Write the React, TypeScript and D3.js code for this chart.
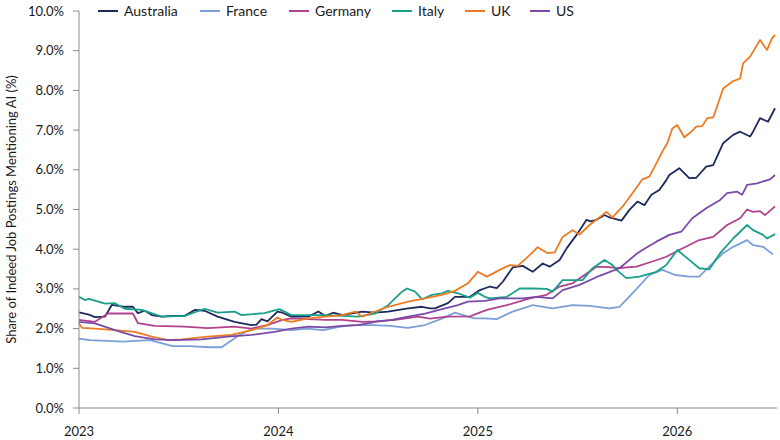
import React from "react";
import * as d3 from "d3";

// Time expressed as decimal year, value in % of job postings mentioning AI
const australia: [number, number][] = [
  [2023.0, 2.41], [2023.05, 2.35], [2023.08, 2.29], [2023.13, 2.3], [2023.165, 2.6], [2023.23, 2.55],
  [2023.27, 2.55], [2023.295, 2.39], [2023.33, 2.45], [2023.365, 2.34], [2023.415, 2.3], [2023.465, 2.32],
  [2023.53, 2.32], [2023.58, 2.47], [2023.63, 2.45], [2023.695, 2.3], [2023.78, 2.17], [2023.865, 2.09],
  [2023.89, 2.1], [2023.915, 2.24], [2023.945, 2.18], [2023.995, 2.43], [2024.02, 2.4], [2024.065, 2.3],
  [2024.15, 2.3], [2024.2, 2.43], [2024.235, 2.32], [2024.275, 2.4], [2024.32, 2.34], [2024.42, 2.43],
  [2024.485, 2.4], [2024.55, 2.43], [2024.65, 2.51], [2024.72, 2.55], [2024.76, 2.51], [2024.785, 2.51],
  [2024.85, 2.64], [2024.885, 2.8], [2024.96, 2.8], [2025.01, 2.97], [2025.06, 3.06], [2025.095, 3.02],
  [2025.125, 3.18], [2025.175, 3.54], [2025.225, 3.58], [2025.275, 3.43], [2025.325, 3.64], [2025.36, 3.56],
  [2025.41, 3.73], [2025.445, 4.02], [2025.495, 4.36], [2025.545, 4.74], [2025.565, 4.7], [2025.595, 4.74],
  [2025.635, 4.86], [2025.66, 4.8], [2025.72, 4.72], [2025.76, 4.99], [2025.8, 5.2], [2025.835, 5.11],
  [2025.87, 5.37], [2025.91, 5.49], [2025.945, 5.74], [2025.96, 5.87], [2026.01, 6.04], [2026.06, 5.79],
  [2026.095, 5.8], [2026.145, 6.08], [2026.18, 6.12], [2026.23, 6.67], [2026.28, 6.88], [2026.315, 6.96],
  [2026.365, 6.84], [2026.38, 6.96], [2026.415, 7.3], [2026.455, 7.21], [2026.49, 7.55],
];

const france: [number, number][] = [
  [2023.0, 1.75], [2023.055, 1.71], [2023.22, 1.67], [2023.355, 1.71], [2023.47, 1.56], [2023.555, 1.56],
  [2023.655, 1.53], [2023.715, 1.53], [2023.755, 1.67], [2023.805, 1.84], [2023.87, 2.0], [2023.97, 2.0],
  [2024.07, 1.96], [2024.14, 2.0], [2024.225, 1.96], [2024.31, 2.05], [2024.375, 2.09], [2024.475, 2.09],
  [2024.56, 2.07], [2024.65, 2.02], [2024.735, 2.09], [2024.82, 2.25], [2024.885, 2.4], [2024.95, 2.3],
  [2024.985, 2.26], [2025.035, 2.26], [2025.095, 2.24], [2025.175, 2.43], [2025.275, 2.59], [2025.375, 2.51],
  [2025.475, 2.59], [2025.56, 2.57], [2025.66, 2.51], [2025.71, 2.55], [2025.775, 2.89], [2025.86, 3.35],
  [2025.925, 3.48], [2025.99, 3.35], [2026.06, 3.31], [2026.11, 3.31], [2026.16, 3.56], [2026.23, 3.9],
  [2026.28, 4.06], [2026.35, 4.23], [2026.38, 4.1], [2026.43, 4.06], [2026.48, 3.87],
];

const germany: [number, number][] = [
  [2023.0, 2.22], [2023.08, 2.17], [2023.145, 2.38], [2023.27, 2.38], [2023.295, 2.14], [2023.38, 2.07],
  [2023.53, 2.05], [2023.645, 2.01], [2023.78, 2.05], [2023.865, 2.0], [2023.945, 2.09], [2024.02, 2.22],
  [2024.065, 2.26], [2024.15, 2.24], [2024.235, 2.22], [2024.32, 2.22], [2024.42, 2.17], [2024.485, 2.18],
  [2024.585, 2.22], [2024.7, 2.3], [2024.76, 2.25], [2024.845, 2.3], [2024.96, 2.31], [2025.045, 2.47],
  [2025.145, 2.59], [2025.26, 2.76], [2025.345, 2.85], [2025.41, 3.06], [2025.475, 3.14], [2025.595, 3.56],
  [2025.675, 3.54], [2025.695, 3.52], [2025.795, 3.56], [2025.875, 3.69], [2025.945, 3.81], [2026.01, 3.98],
  [2026.11, 4.23], [2026.18, 4.31], [2026.25, 4.61], [2026.315, 4.78], [2026.35, 5.0], [2026.38, 4.94],
  [2026.415, 4.96], [2026.44, 4.86], [2026.49, 5.08],
];

const italy: [number, number][] = [
  [2023.0, 2.8], [2023.03, 2.72], [2023.05, 2.75], [2023.13, 2.63], [2023.18, 2.64], [2023.23, 2.5],
  [2023.315, 2.47], [2023.415, 2.3], [2023.53, 2.32], [2023.63, 2.5], [2023.695, 2.4], [2023.78, 2.43],
  [2023.815, 2.34], [2023.93, 2.39], [2024.005, 2.49], [2024.065, 2.34], [2024.15, 2.34], [2024.235, 2.34],
  [2024.32, 2.32], [2024.4, 2.3], [2024.485, 2.38], [2024.55, 2.59], [2024.62, 2.93], [2024.645, 3.01],
  [2024.685, 2.93], [2024.72, 2.74], [2024.77, 2.85], [2024.82, 2.89], [2024.85, 2.95], [2024.9, 2.89],
  [2024.96, 2.78], [2025.0, 2.9], [2025.035, 2.8], [2025.06, 2.76], [2025.145, 2.8], [2025.21, 3.01],
  [2025.275, 3.01], [2025.345, 3.0], [2025.375, 2.93], [2025.425, 3.22], [2025.525, 3.22], [2025.575, 3.52],
  [2025.61, 3.64], [2025.635, 3.73], [2025.675, 3.6], [2025.695, 3.48], [2025.745, 3.27], [2025.81, 3.31],
  [2025.895, 3.43], [2025.945, 3.6], [2026.0, 3.98], [2026.06, 3.73], [2026.11, 3.52], [2026.16, 3.49],
  [2026.215, 3.9], [2026.28, 4.27], [2026.35, 4.61], [2026.38, 4.48], [2026.43, 4.36], [2026.45, 4.27],
  [2026.49, 4.38],
];

const uk: [number, number][] = [
  [2023.0, 2.13], [2023.015, 2.02], [2023.08, 2.0], [2023.18, 1.96], [2023.28, 1.92], [2023.365, 1.8],
  [2023.445, 1.71], [2023.515, 1.73], [2023.645, 1.8], [2023.765, 1.84], [2023.865, 1.96], [2023.945, 2.09],
  [2023.995, 2.28], [2024.02, 2.22], [2024.065, 2.17], [2024.15, 2.26], [2024.235, 2.3], [2024.32, 2.34],
  [2024.385, 2.43], [2024.42, 2.3], [2024.485, 2.43], [2024.55, 2.55], [2024.65, 2.68], [2024.735, 2.76],
  [2024.82, 2.85], [2024.885, 2.95], [2024.95, 3.14], [2025.0, 3.43], [2025.045, 3.31], [2025.11, 3.48],
  [2025.16, 3.6], [2025.2, 3.58], [2025.26, 3.85], [2025.3, 4.05], [2025.35, 3.9], [2025.385, 3.92],
  [2025.425, 4.31], [2025.475, 4.48], [2025.51, 4.37], [2025.56, 4.61], [2025.645, 4.94], [2025.675, 4.8],
  [2025.725, 5.07], [2025.775, 5.41], [2025.825, 5.76], [2025.86, 5.83], [2025.895, 6.16], [2025.925, 6.46],
  [2025.95, 6.67], [2025.975, 7.04], [2026.0, 7.13], [2026.035, 6.82], [2026.07, 6.96], [2026.095, 7.09],
  [2026.125, 7.1], [2026.15, 7.3], [2026.18, 7.32], [2026.2, 7.6], [2026.23, 8.05], [2026.275, 8.22],
  [2026.315, 8.3], [2026.33, 8.68], [2026.365, 8.85], [2026.415, 9.27], [2026.45, 9.02], [2026.475, 9.31],
  [2026.49, 9.4],
];

const us: [number, number][] = [
  [2023.0, 2.17], [2023.08, 2.13], [2023.18, 1.96], [2023.28, 1.81], [2023.38, 1.73], [2023.48, 1.71],
  [2023.615, 1.73], [2023.745, 1.8], [2023.865, 1.84], [2023.98, 1.92], [2024.065, 2.0], [2024.15, 2.05],
  [2024.235, 2.03], [2024.32, 2.07], [2024.4, 2.09], [2024.485, 2.17], [2024.57, 2.22], [2024.65, 2.3],
  [2024.735, 2.38], [2024.82, 2.49], [2024.9, 2.59], [2024.95, 2.68], [2025.035, 2.7], [2025.11, 2.76],
  [2025.225, 2.76], [2025.295, 2.8], [2025.375, 2.76], [2025.425, 2.97], [2025.51, 3.1], [2025.61, 3.33],
  [2025.71, 3.52], [2025.8, 3.9], [2025.825, 3.98], [2025.895, 4.19], [2025.96, 4.36], [2026.02, 4.44],
  [2026.075, 4.78], [2026.145, 5.03], [2026.215, 5.24], [2026.25, 5.41], [2026.3, 5.45], [2026.325, 5.37],
  [2026.35, 5.62], [2026.4, 5.66], [2026.465, 5.76], [2026.49, 5.87],
];

const seriesNames = ["Australia", "France", "Germany", "Italy", "UK", "US"];
const seriesData = [australia, france, germany, italy, uk, us];
const seriesColors = ["#1f2a5c", "#7b9fd6", "#b0428e", "#19a08a", "#ee7b22", "#7a4aa9"];

const yTicks = [0, 1, 2, 3, 4, 5, 6, 7, 8, 9, 10];
const xTicks = [2023, 2024, 2025, 2026];
const yTitle = "Share of Indeed Job Postings Mentioning AI (%)";

const W = 780;
const H = 440;
const M = { left: 79, right: 3, top: 11, bottom: 32 };
const FONT = "Lato, 'Liberation Sans', sans-serif";

export default function App() {
  const x = d3.scaleLinear().domain([2023, 2026.5]).range([M.left, W - M.right]);
  const y = d3.scaleLinear().domain([0, 10]).range([H - M.bottom, M.top]);
  const line = d3
    .line<[number, number]>()
    .x((d) => x(d[0]))
    .y((d) => y(d[1]));

  // legend layout: line 20px, gap, text, gap
  const legendX: number[] = [];
  const approxWidth = (s: string) => {
    const widths: Record<string, number> = { Australia: 55, France: 42, Germany: 56, Italy: 26, UK: 18, US: 18 };
    return widths[s] ?? s.length * 7;
  };
  let cx = 98;
  seriesNames.forEach((n) => {
    legendX.push(cx);
    cx += 20 + 6 + approxWidth(n) + 21;
  });

  const y0 = y(0);
  return (
    <svg
      width={W}
      height={H}
      style={{ position: "absolute", left: 0, top: 0, background: "#fff" }}
      fontFamily={FONT}
    >
      {/* series lines */}
      {seriesData.map((d, i) => (
        <path key={seriesNames[i]} d={line(d) ?? ""} fill="none" stroke={seriesColors[i]} strokeWidth={1.8} strokeLinejoin="round" />
      ))}

      {/* y axis */}
      <line x1={M.left} x2={M.left} y1={y(10)} y2={y0} stroke="#8a8a8a" strokeWidth={1} />
      {yTicks.map((t) => (
        <g key={t}>
          <line x1={M.left - 6} x2={M.left} y1={y(t)} y2={y(t)} stroke="#8a8a8a" strokeWidth={1} />
          <text x={M.left - 15} y={y(t)} dy="0.35em" textAnchor="end" fontSize={13} fill="#1a1a1a">
            {t.toFixed(1) + "%"}
          </text>
        </g>
      ))}

      {/* x axis */}
      <line x1={M.left} x2={W - M.right} y1={y0} y2={y0} stroke="#8a8a8a" strokeWidth={1} />
      {xTicks.map((t) => (
        <g key={t}>
          <line x1={x(t)} x2={x(t)} y1={y0} y2={y0 + 6} stroke="#8a8a8a" strokeWidth={1} />
          <text x={x(t)} y={y0 + 28} textAnchor="middle" fontSize={13} fill="#1a1a1a">
            {String(t)}
          </text>
        </g>
      ))}

      {/* y title */}
      <text
        transform={`translate(16, ${(y(10) + y0) / 2}) rotate(-90)`}
        textAnchor="middle"
        fontSize={13}
        fill="#1a1a1a"
      >
        {yTitle}
      </text>

      {/* legend */}
      {seriesNames.map((n, i) => (
        <g key={n} transform={`translate(${legendX[i]}, 11)`}>
          <line x1={0} x2={20} y1={0} y2={0} stroke={seriesColors[i]} strokeWidth={2} />
          <text x={26} y={0} dy="0.35em" fontSize={14} fill="#1a1a1a">
            {n}
          </text>
        </g>
      ))}
    </svg>
  );
}
